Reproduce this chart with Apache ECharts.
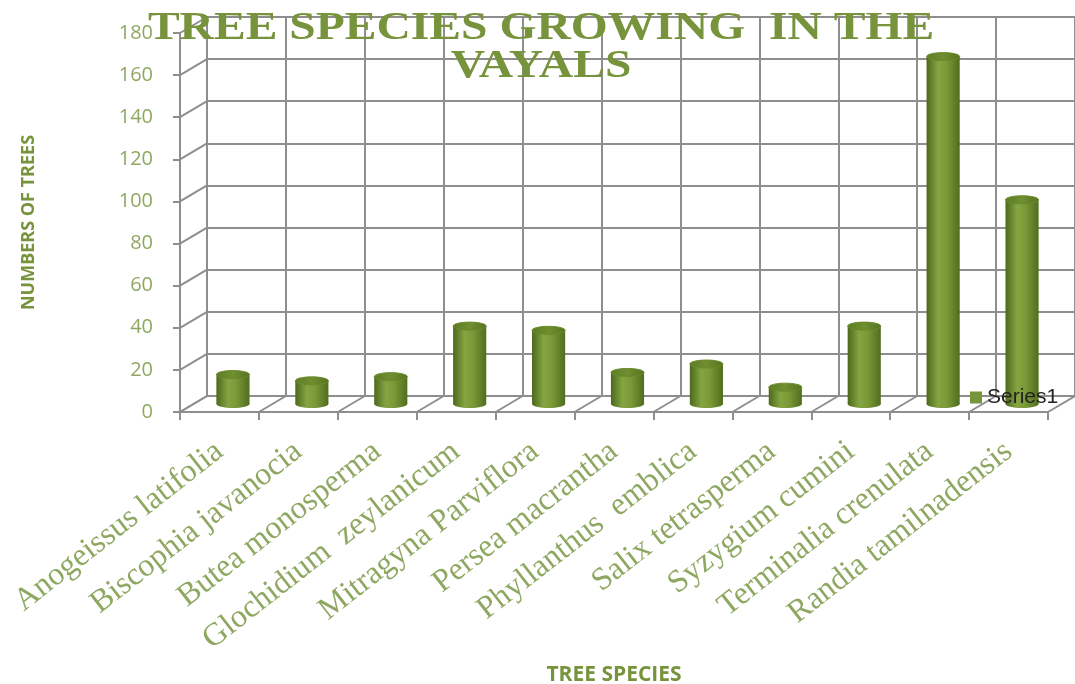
<!DOCTYPE html>
<html>
<head>
<meta charset="utf-8">
<script src="https://cdn.jsdelivr.net/npm/echarts@6/dist/echarts.min.js"></script>
<style>
  html, body { margin: 0; padding: 0; background: #fff; }
  #chart { width: 1075px; height: 684px; }
</style>
</head>
<body>
<div id="chart"></div>
<script>
// data
var species = [
  "Anogeissus latifolia", "Biscophia javanocia", "Butea monosperma",
  "Glochidium  zeylanicum", "Mitragyna Parviflora", "Persea macrantha",
  "Phyllanthus  emblica", "Salix tetrasperma", "Syzygium cumini",
  "Terminalia crenulata", "Randia tamilnadensis"
];
var trees = [14, 11, 13, 37, 35, 15, 19, 8, 37, 165, 97];
var yTicks = [0, 20, 40, 60, 80, 100, 120, 140, 160, 180];

// depth of the fake 3d box (back wall sits up and right of the front)
var DX = 27, DY = -16;
var gridColor = "#8e8e8e";
var labelGreen = "#8ea862";
var darkGreen = "#77933c";

var chart = echarts.init(document.getElementById("chart"));

var bodyGrad = new echarts.graphic.LinearGradient(0, 0, 1, 0, [
  { offset: 0, color: "#4c691c" },
  { offset: 0.35, color: "#84a542" },
  { offset: 0.6, color: "#7a9a37" },
  { offset: 1, color: "#506d1f" }
]);
var topGrad = new echarts.graphic.LinearGradient(0, 0, 1, 0, [
  { offset: 0, color: "#5d7c25" },
  { offset: 0.5, color: "#6f8f30" },
  { offset: 1, color: "#56741f" }
]);

function renderCylinder(params, api) {
  var top = api.coord([api.value(0), api.value(1)]);
  var base = api.coord([api.value(0), 0]);
  var band = api.size([1, 0])[0];
  var w = band * 0.42, rx = w / 2, ry = w * 0.12;
  var cx = top[0] + DX / 2, ty = top[1] + DY / 2, by = base[1] + DY / 2;
  return {
    type: "group",
    children: [
      { type: "ellipse", shape: { cx: cx, cy: by, rx: rx, ry: ry }, style: { fill: bodyGrad } },
      { type: "rect", shape: { x: cx - rx, y: ty, width: w, height: by - ty }, style: { fill: bodyGrad } },
      { type: "ellipse", shape: { cx: cx, cy: ty, rx: rx, ry: ry }, style: { fill: topGrad, stroke: "#6a8a2c", lineWidth: 1 } }
    ]
  };
}

function lineStyle() {
  return { stroke: gridColor, lineWidth: 2 };
}

// floor lines from each category boundary back to the wall
function renderFloor(params, api) {
  var c = api.coord([api.value(0), 0]);
  var band = api.size([1, 0])[0];
  var xs = [c[0] - band / 2];
  if (params.dataIndex === species.length - 1) xs.push(c[0] + band / 2);
  return {
    type: "group",
    children: xs.map(function (x) {
      return { type: "line", shape: { x1: x, y1: c[1], x2: x + DX, y2: c[1] + DY }, style: lineStyle() };
    })
  };
}

// side wall lines at each value tick
function renderSide(params, api) {
  var c = api.coord([0, api.value(1)]);
  var band = api.size([1, 0])[0];
  var x = c[0] - band / 2;
  return { type: "line", shape: { x1: x, y1: c[1], x2: x + DX, y2: c[1] + DY }, style: lineStyle() };
}

var option = {
  animation: false,
  graphic: [
    {
      type: "text",
      x: 541,
      y: 9,
      scaleX: 1.16,
      z: 10,
      style: {
        text: "TREE SPECIES GROWING  IN THE\nVAYALS",
        align: "center",
        verticalAlign: "top",
        fontFamily: "Liberation Serif",
        fontWeight: "bold",
        fontSize: 41,
        lineHeight: 38,
        fill: darkGreen
      }
    }
  ],
  legend: {
    data: ["Series1"],
    left: 965,
    top: 382,
    icon: "rect",
    itemWidth: 12,
    itemHeight: 12,
    itemGap: 4,
    textStyle: { fontFamily: "Liberation Sans", fontSize: 21, color: "#222" }
  },
  grid: [
    { left: 180, top: 33, width: 868, height: 379, outerBoundsMode: "none" },
    { left: 180 + DX, top: 33 + DY, width: 868, height: 379, outerBoundsMode: "none" }
  ],
  xAxis: [
    {
      type: "category",
      gridIndex: 0,
      data: species,
      name: "TREE SPECIES",
      nameLocation: "middle",
      nameGap: 253,
      nameTextStyle: { fontFamily: "Open Sans", fontWeight: "bold", fontSize: 21, color: darkGreen },
      axisLine: { show: true, lineStyle: { color: gridColor, width: 2 } },
      axisTick: { show: true, interval: 0, length: 8, lineStyle: { color: gridColor, width: 2 } },
      axisLabel: {
        interval: 0,
        rotate: 38,
        margin: 36,
        fontFamily: "Liberation Serif",
        fontSize: 32,
        color: labelGreen
      },
      splitLine: { show: false }
    },
    {
      type: "category",
      gridIndex: 1,
      data: species,
      axisLine: { show: false },
      axisTick: { show: false, interval: 0 },
      axisLabel: { show: false, interval: 0 },
      splitLine: { show: true, interval: 0, lineStyle: { color: gridColor, width: 2 } }
    }
  ],
  yAxis: [
    {
      type: "value",
      gridIndex: 0,
      min: 0,
      max: 180,
      interval: 20,
      name: "NUMBERS OF TREES",
      nameLocation: "middle",
      nameRotate: 90,
      nameGap: 142,
      nameTextStyle: { fontFamily: "Open Sans", fontWeight: "bold", fontSize: 18, color: darkGreen },
      axisLine: { show: true, lineStyle: { color: gridColor, width: 2 } },
      axisTick: { show: true, length: 7, lineStyle: { color: gridColor, width: 2 } },
      axisLabel: { margin: 27, fontFamily: "Open Sans", fontSize: 20, color: labelGreen },
      splitLine: { show: false }
    },
    {
      type: "value",
      gridIndex: 1,
      min: 0,
      max: 180,
      interval: 20,
      axisLine: { show: false },
      axisTick: { show: false },
      axisLabel: { show: false },
      splitLine: { show: true, lineStyle: { color: gridColor, width: 2 } }
    }
  ],
  series: [
    {
      name: "floor",
      type: "custom",
      xAxisIndex: 0,
      yAxisIndex: 0,
      renderItem: renderFloor,
      data: species.map(function (s, i) { return [i, 0]; }),
      silent: true,
      z: 1
    },
    {
      name: "side",
      type: "custom",
      xAxisIndex: 0,
      yAxisIndex: 0,
      renderItem: renderSide,
      data: yTicks.map(function (v) { return [0, v]; }),
      silent: true,
      z: 1
    },
    {
      name: "Series1",
      type: "custom",
      xAxisIndex: 0,
      yAxisIndex: 0,
      itemStyle: { color: "#77933c" },
      renderItem: renderCylinder,
      data: trees.map(function (v, i) { return [i, v]; }),
      z: 3
    }
  ]
};

chart.setOption(option);
</script>
</body>
</html>
